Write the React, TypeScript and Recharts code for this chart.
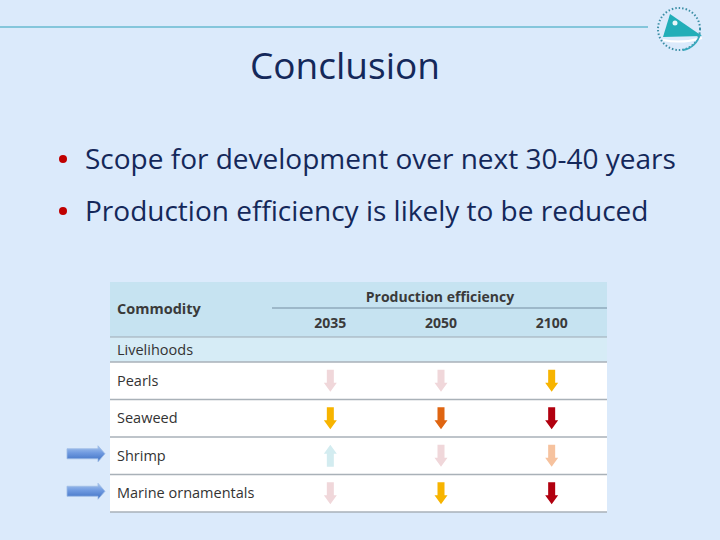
import React from "react"
import { ScatterChart, Scatter, XAxis, YAxis } from "recharts"

const years = ["2035", "2050", "2100"]
const commodities = ["Pearls", "Seaweed", "Shrimp", "Marine ornamentals"]
const highlighted = ["Shrimp", "Marine ornamentals"]

// change in production efficiency: + up, - down, bigger = stronger
const pearls = [-1, -1, -3]
const seaweed = [-3, -4, -5]
const shrimp = [1, -1, -2]
const marineOrnamentals = [-1, -3, -5]

const bullets = [
  "Scope for development over next 30-40 years",
  "Production efficiency is likely to be reduced",
]

const levelColors: Record<string, string> = {
  "1": "#d3ecf0",
  "-1": "#f0d7da",
  "-2": "#f6c29e",
  "-3": "#f7b400",
  "-4": "#df6511",
  "-5": "#b1000f",
}

const series = [pearls, seaweed, shrimp, marineOrnamentals]
const data = commodities.flatMap((c, i) =>
  years.map((y, j) => ({ year: y, commodity: c, level: series[i][j] }))
)

const navy = "#14285a"
const font = "'Open Sans', sans-serif"

function Arrow(props: any) {
  const { cx, cy, payload } = props
  const up = payload.level > 0
  const s = up ? -1 : 1
  const d = [
    `M${cx - 3.5},${cy - 11 * s}`,
    `L${cx + 3.5},${cy - 11 * s}`,
    `L${cx + 3.5},${cy + 2 * s}`,
    `L${cx + 6.5},${cy + 2 * s}`,
    `L${cx},${cy + 11 * s}`,
    `L${cx - 6.5},${cy + 2 * s}`,
    `L${cx - 3.5},${cy + 2 * s}`,
    "Z",
  ].join(" ")
  return <path d={d} fill={levelColors[String(payload.level)]} />
}

function YearTick(props: any) {
  const { x, y, payload } = props
  return (
    <text x={x} y={y - 26} textAnchor="middle" fontFamily={font} fontSize={14} fontWeight={700} fill="#3a3a3a">
      {payload.value}
    </text>
  )
}

function CommodityTick(props: any) {
  const { x, y, payload } = props
  const mark = highlighted.includes(payload.value)
  const ax = x - 200
  const ay = y - 2
  return (
    <g>
      {mark && (
        <path
          d={`M${ax},${ay - 5} L${ax + 31},${ay - 5} L${ax + 31},${ay - 8} L${ax + 38},${ay} L${ax + 31},${ay + 8} L${ax + 31},${ay + 5} L${ax},${ay + 5} Z`}
          fill="url(#blueArrow)"
          stroke="#9dbbe6"
          strokeWidth={0.8}
        />
      )}
      <text x={x - 150} y={y + 5} fontFamily={font} fontSize={14.5} fill="#333">
        {payload.value}
      </text>
    </g>
  )
}

function Logo() {
  return (
    <g>
      <circle cx={679} cy={29} r={21} fill="none" stroke="#3d8fa6" strokeWidth={2} strokeDasharray="1.5 2" />
      <path d="M670,14 L702,36 L663,37 Z" fill="#22aeb8" />
      <circle cx={675} cy={23} r={2.5} fill="#e8f6f8" />
      <path d="M663,40 Q682,44 702,38" fill="none" stroke="#ffffff" strokeWidth={2} />
      <path d="M700,34 A21,21 0 0 1 683,50" fill="none" stroke="#3aa9bd" strokeWidth={1.8} />
    </g>
  )
}

export default function App() {
  return (
    <div style={{ position: "absolute", left: 0, top: 0, width: 720, height: 540, background: "#dbeafb", overflow: "hidden" }}>
      <svg width={720} height={540} style={{ position: "absolute", left: 0, top: 0 }}>
        <line x1={0} y1={27} x2={648} y2={27} stroke="#84c6db" strokeWidth={2} />
        <Logo />
        <text x={345} y={79} textAnchor="middle" fontFamily={font} fontSize={37} fill={navy}>
          Conclusion
        </text>
        {bullets.map((b, i) => (
          <g key={b}>
            <circle cx={63} cy={159 + i * 52} r={4} fill="#c00000" />
            <text x={85} y={169 + i * 52} fontFamily={font} fontSize={28} fill={navy}>
              {b}
            </text>
          </g>
        ))}
        {/* table body */}
        <rect x={110} y={282} width={497} height={55} fill="#c6e3f1" />
        <rect x={110} y={337} width={497} height={25} fill="#d6ecf6" />
        <rect x={110} y={362} width={497} height={150} fill="#ffffff" />
        <line x1={272} y1={308} x2={607} y2={308} stroke="#8faabb" strokeWidth={1.5} />
        <line x1={110} y1={337} x2={607} y2={337} stroke="#9eaab3" strokeWidth={1.2} />
        {[362, 399.5, 437, 474.5, 512].map((y) => (
          <line key={y} x1={110} y1={y} x2={607} y2={y} stroke="#a9b1b8" strokeWidth={1.5} />
        ))}
        <text x={117} y={314} fontFamily={font} fontSize={14.5} fontWeight={700} fill="#3a3a3a">
          Commodity
        </text>
        <text x={440} y={302} textAnchor="middle" fontFamily={font} fontSize={14} fontWeight={700} fill="#3a3a3a">
          Production efficiency
        </text>
        <text x={117} y={355} fontFamily={font} fontSize={14.5} fill="#333">
          Livelihoods
        </text>
      </svg>
      <div style={{ position: "absolute", left: 0, top: 0 }}>
        <ScatterChart width={720} height={540} margin={{ top: 282, right: 113, bottom: 28, left: 110 }}>
          <defs>
            <linearGradient id="blueArrow" x1="0" y1="0" x2="0" y2="1">
              <stop offset="0%" stopColor="#a9c6ee" />
              <stop offset="45%" stopColor="#6f9ae0" />
              <stop offset="100%" stopColor="#3d6fc2" />
            </linearGradient>
          </defs>
          <XAxis
            dataKey="year"
            type="category"
            allowDuplicatedCategory={false}
            orientation="top"
            height={80}
            axisLine={false}
            tickLine={false}
            tick={<YearTick />}
          />
          <YAxis
            dataKey="commodity"
            type="category"
            allowDuplicatedCategory={false}
            reversed
            width={165}
            axisLine={false}
            tickLine={false}
            tick={<CommodityTick />}
          />
          <Scatter data={data} shape={<Arrow />} isAnimationActive={false} />
        </ScatterChart>
      </div>
    </div>
  )
}
